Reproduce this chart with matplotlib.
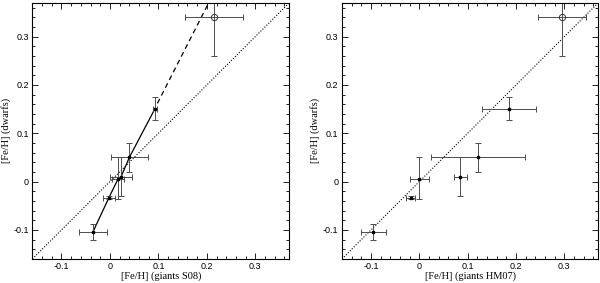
import matplotlib.pyplot as plt
from matplotlib.ticker import MultipleLocator, FuncFormatter

# giants S08 (left) and HM07 (right) vs dwarfs
dwarf_fe = [-0.104, -0.033, 0.006, 0.010, 0.050, 0.151]
dwarf_lo = [0.016, 0.003, 0.042, 0.040, 0.030, 0.024]
dwarf_hi = [0.016, 0.003, 0.044, 0.040, 0.030, 0.024]

s08_fe = [-0.035, -0.002, 0.017, 0.023, 0.040, 0.093]
s08_err = [0.029, 0.013, 0.012, 0.022, 0.038, 0.004]

hm07_fe = [-0.095, -0.018, 0.000, 0.085, 0.121, 0.185]
hm07_err = [0.026, 0.010, 0.020, 0.014, 0.097, 0.056]

# open circle
open_dwarf = 0.340
open_dwarf_lo = 0.080
open_dwarf_hi = 0.080
open_s08 = 0.215
open_s08_err = 0.060
open_hm07 = 0.295
open_hm07_err = 0.050

# dashed extension in left panel
dash_x = [0.098, 0.215]
dash_y = [0.162, 0.392]

lim = (-0.16, 0.37)

fig = plt.figure(figsize=(6.0, 2.83), dpi=100)
ax1 = fig.add_axes([0.054, 0.085, 0.428, 0.905])
ax2 = fig.add_axes([0.570, 0.085, 0.427, 0.905])

fmt = FuncFormatter(lambda v, p: "0" if abs(v) < 1e-9 else ("%.1f" % v))

def setup(ax, xlabel):
    ax.set_xlim(lim)
    ax.set_ylim(lim)
    ax.plot(lim, lim, ls=(0, (1, 1.5)), color="k", lw=0.8)
    ax.xaxis.set_major_locator(MultipleLocator(0.1))
    ax.yaxis.set_major_locator(MultipleLocator(0.1))
    ax.xaxis.set_minor_locator(MultipleLocator(0.02))
    ax.yaxis.set_minor_locator(MultipleLocator(0.02))
    ax.xaxis.set_major_formatter(fmt)
    ax.yaxis.set_major_formatter(fmt)
    ax.tick_params(which="both", direction="in", top=True, right=True,
                   width=0.6, labelsize=6.5, pad=2.5)
    ax.tick_params(which="major", length=4)
    ax.tick_params(which="minor", length=2)
    for lab in ax.get_xticklabels() + ax.get_yticklabels():
        lab.set_family("Liberation Sans")
    for s in ax.spines.values():
        s.set_linewidth(0.8)
    ax.set_xlabel(xlabel, family="Liberation Serif", fontsize=7.5, labelpad=0)
    ax.set_ylabel("[Fe/H] (dwarfs)", family="Liberation Serif", fontsize=7.5, labelpad=2)

setup(ax1, "[Fe/H] (giants S08)")
setup(ax2, "[Fe/H] (giants HM07)")

ax1.plot(s08_fe, dwarf_fe, color="k", lw=0.9)
ax1.plot(dash_x, dash_y, color="k", lw=0.9, ls=(0, (4, 3)))

for ax, gx, gxe, ox, oxe in [(ax1, s08_fe, s08_err, open_s08, open_s08_err),
                              (ax2, hm07_fe, hm07_err, open_hm07, open_hm07_err)]:
    ax.errorbar(gx, dwarf_fe, xerr=gxe, yerr=[dwarf_lo, dwarf_hi], fmt="s",
                ms=2, color="k", ecolor="0.3", elinewidth=0.7, capsize=2,
                capthick=0.7)
    ax.errorbar([ox], [open_dwarf], xerr=[oxe], yerr=[[open_dwarf_lo], [open_dwarf_hi]],
                fmt="o", ms=4.5, mfc="none", mec="0.2", mew=0.7, ecolor="0.3",
                elinewidth=0.7, capsize=2, capthick=0.7)

fig.savefig("out.png", dpi=100)
